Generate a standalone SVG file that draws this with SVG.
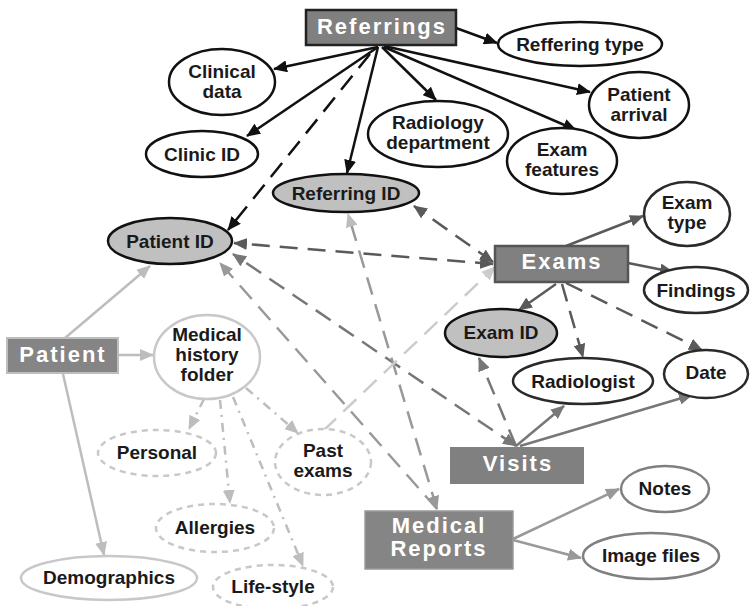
<svg xmlns="http://www.w3.org/2000/svg" width="752" height="606" viewBox="0 0 752 606">
<style>
.lbl{font-family:"Liberation Sans",Arial,sans-serif;font-weight:bold;font-size:19px;fill:#1a1a1a;text-anchor:middle}
.box{font-family:"Liberation Sans",Arial,sans-serif;font-weight:bold;font-size:22px;fill:#ffffff;text-anchor:middle;letter-spacing:2px}
.e-blk{fill:#ffffff;stroke:#111;stroke-width:2.5}
.e-key{fill:#c0c0c0;stroke:#111;stroke-width:2.5}
.e-dk{fill:#ffffff;stroke:#2a2a2a;stroke-width:2.5}
.e-md{fill:#ffffff;stroke:#808080;stroke-width:2.5}
.e-lt{fill:#ffffff;stroke:#c8c8c8;stroke-width:2.5}
.e-dash{fill:#ffffff;stroke:#c8c8c8;stroke-width:2.5;stroke-dasharray:6 5}
.b-main{fill:#808080}
.c{fill:none;stroke-width:2.5}
.k{stroke:#111}
.g5{stroke:#5a5a5a}
.g7{stroke:#777}
.g9{stroke:#999}
.gb{stroke:#bdbdbd}
.gc{stroke:#cccccc}
.d{stroke-dasharray:18 10}
.dd{stroke-dasharray:9 6 2 6}
</style>
<defs>
<marker id="ak" viewBox="0 0 14 12" refX="13" refY="6" markerWidth="14" markerHeight="12" markerUnits="userSpaceOnUse" orient="auto-start-reverse"><path d="M0,0 L14,6 L0,12 z" fill="#111"/></marker>
<marker id="a5" viewBox="0 0 14 12" refX="13" refY="6" markerWidth="14" markerHeight="12" markerUnits="userSpaceOnUse" orient="auto-start-reverse"><path d="M0,0 L14,6 L0,12 z" fill="#5a5a5a"/></marker>
<marker id="a7" viewBox="0 0 14 12" refX="13" refY="6" markerWidth="14" markerHeight="12" markerUnits="userSpaceOnUse" orient="auto-start-reverse"><path d="M0,0 L14,6 L0,12 z" fill="#777"/></marker>
<marker id="a9" viewBox="0 0 14 12" refX="13" refY="6" markerWidth="14" markerHeight="12" markerUnits="userSpaceOnUse" orient="auto-start-reverse"><path d="M0,0 L14,6 L0,12 z" fill="#999"/></marker>
<marker id="ab" viewBox="0 0 14 12" refX="13" refY="6" markerWidth="14" markerHeight="12" markerUnits="userSpaceOnUse" orient="auto-start-reverse"><path d="M0,0 L14,6 L0,12 z" fill="#bdbdbd"/></marker>
<marker id="ac" viewBox="0 0 14 12" refX="13" refY="6" markerWidth="14" markerHeight="12" markerUnits="userSpaceOnUse" orient="auto-start-reverse"><path d="M0,0 L14,6 L0,12 z" fill="#cccccc"/></marker>
</defs>
<rect width="752" height="606" fill="#ffffff"/>

<g id="connectors">
<!-- Referrings -->
<line class="c k" x1="456" y1="28" x2="497" y2="43" marker-end="url(#ak)"/>
<line class="c k" x1="378" y1="47" x2="274" y2="69" marker-end="url(#ak)"/>
<line class="c k" x1="378" y1="47" x2="247" y2="136" marker-end="url(#ak)"/>
<line class="c k" x1="378" y1="47" x2="347" y2="173" marker-end="url(#ak)"/>
<line class="c k" x1="382" y1="47" x2="436" y2="100" marker-end="url(#ak)"/>
<line class="c k" x1="384" y1="46" x2="590" y2="92" marker-end="url(#ak)"/>
<line class="c k" x1="384" y1="47" x2="576" y2="130" marker-end="url(#ak)"/>
<line class="c k d" x1="370" y1="54" x2="228" y2="230" marker-end="url(#ak)"/>
<!-- Exams -->
<line class="c g5" x1="566" y1="246" x2="643" y2="216" marker-end="url(#a5)"/>
<line class="c g5" x1="628" y1="263" x2="673" y2="272" marker-end="url(#a5)"/>
<line class="c g5" x1="556" y1="284" x2="519" y2="310" marker-end="url(#a5)"/>
<line class="c g5 d" x1="562" y1="284" x2="583" y2="357" marker-end="url(#a5)"/>
<line class="c g5 d" x1="566" y1="283" x2="702" y2="350" marker-end="url(#a5)"/>
<line class="c g5 d" x1="493" y1="264" x2="234" y2="243" marker-start="url(#a5)" marker-end="url(#a5)"/>
<line class="c g5 d" x1="493" y1="262" x2="414" y2="206" marker-start="url(#a5)" marker-end="url(#a5)"/>
<!-- Visits -->
<line class="c g7 d" x1="516" y1="446" x2="233" y2="254" marker-start="url(#a7)" marker-end="url(#a7)"/>
<line class="c g7 d" x1="516" y1="446" x2="479" y2="358" marker-end="url(#a7)"/>
<line class="c g7" x1="516" y1="446" x2="564" y2="406" marker-end="url(#a7)"/>
<line class="c g7" x1="520" y1="446" x2="692" y2="395" marker-end="url(#a7)"/>
<!-- Medical Reports -->
<line class="c g9 d" x1="437" y1="509" x2="220" y2="263" marker-end="url(#a9)"/>
<line class="c g9 d" x1="437" y1="509" x2="348" y2="214" marker-start="url(#a9)" marker-end="url(#ab)"/>
<line class="c g9" x1="513" y1="539" x2="619" y2="489" marker-end="url(#a9)"/>
<line class="c g9" x1="513" y1="540" x2="581" y2="558" marker-end="url(#a9)"/>
<!-- Patient -->
<line class="c gb" x1="65" y1="338" x2="150" y2="266" marker-end="url(#ab)"/>
<line class="c gb" x1="118" y1="355" x2="153" y2="355" marker-end="url(#ab)"/>
<line class="c gb" x1="63" y1="374" x2="104" y2="555" marker-end="url(#ab)"/>
<!-- Medical history folder -->
<line class="c gb dd" x1="204" y1="399" x2="189" y2="429" marker-end="url(#ab)"/>
<line class="c gb dd" x1="220" y1="400" x2="230" y2="503" marker-end="url(#ab)"/>
<line class="c gb dd" x1="233" y1="397" x2="303" y2="566" marker-end="url(#ab)"/>
<line class="c gb dd" x1="246" y1="388" x2="298" y2="433" marker-end="url(#ab)"/>
<!-- Past exams to Exams -->
<line class="c gc d" x1="323" y1="431" x2="495" y2="267" marker-end="url(#ac)"/>
</g>

<g id="referrings"><rect x="306" y="10" width="150" height="35" class="b-main" stroke="#222" stroke-width="2.5"/><text class="box" x="382" y="34">Referrings</text></g>
<g id="reffering-type"><ellipse class="e-blk" cx="580" cy="44" rx="82" ry="22"/><text class="lbl" x="580" y="51">Reffering type</text></g>
<g id="clinical-data"><ellipse class="e-blk" cx="222" cy="82" rx="53" ry="33"/><text class="lbl" x="222" y="78">Clinical<tspan x="222" dy="20">data</tspan></text></g>
<g id="clinic-id"><ellipse class="e-blk" cx="202" cy="154" rx="56" ry="23"/><text class="lbl" x="202" y="161">Clinic ID</text></g>
<g id="radiology-department"><ellipse class="e-blk" cx="438" cy="134" rx="70" ry="33"/><text class="lbl" x="438" y="129">Radiology<tspan x="438" dy="20">department</tspan></text></g>
<g id="patient-arrival"><ellipse class="e-blk" cx="639" cy="105" rx="50" ry="33"/><text class="lbl" x="639" y="101">Patient<tspan x="639" dy="20">arrival</tspan></text></g>
<g id="exam-features"><ellipse class="e-blk" cx="562" cy="161" rx="55" ry="33"/><text class="lbl" x="562" y="156">Exam<tspan x="562" dy="20">features</tspan></text></g>
<g id="referring-id"><ellipse class="e-key" cx="346" cy="193" rx="73" ry="19"/><text class="lbl" x="346" y="200" fill="#333">Referring ID</text></g>
<g id="patient-id"><ellipse class="e-key" cx="170" cy="241" rx="62" ry="23"/><text class="lbl" x="170" y="248">Patient ID</text></g>

<g id="exams"><rect x="495" y="246" width="133" height="36" class="b-main" stroke="#555" stroke-width="2.5"/><text class="box" x="562" y="269">Exams</text></g>
<g id="exam-type"><ellipse class="e-dk" cx="687" cy="214" rx="43" ry="32"/><text class="lbl" x="687" y="209">Exam<tspan x="687" dy="20">type</tspan></text></g>
<g id="findings"><ellipse class="e-dk" cx="696" cy="290" rx="52" ry="23"/><text class="lbl" x="696" y="297">Findings</text></g>
<g id="exam-id"><ellipse class="e-key" cx="501" cy="333" rx="56" ry="24"/><text class="lbl" x="501" y="339">Exam ID</text></g>
<g id="radiologist"><ellipse class="e-dk" cx="583" cy="381" rx="70" ry="23"/><text class="lbl" x="583" y="388">Radiologist</text></g>
<g id="date"><ellipse class="e-dk" cx="706" cy="374" rx="42" ry="24"/><text class="lbl" x="706" y="379">Date</text></g>

<g id="visits"><rect x="450" y="447" width="134" height="37" class="b-main"/><text class="box" x="518" y="471">Visits</text></g>
<g id="medical-reports"><rect x="365" y="511" width="148" height="58" fill="#858585" stroke="#9a9a9a" stroke-width="1.5"/><text class="box" x="439" y="533">Medical<tspan x="439" dy="23">Reports</tspan></text></g>
<g id="notes"><ellipse class="e-md" cx="665" cy="489" rx="44" ry="23"/><text class="lbl" x="665" y="495">Notes</text></g>
<g id="image-files"><ellipse class="e-md" cx="651" cy="556" rx="68" ry="23"/><text class="lbl" x="651" y="562">Image files</text></g>

<g id="patient"><rect x="7" y="338" width="111" height="35" fill="#858585" stroke="#bdbdbd" stroke-width="2"/><text class="box" x="63" y="362">Patient</text></g>
<g id="medical-history-folder"><ellipse class="e-lt" cx="207" cy="357" rx="53" ry="42"/><text class="lbl" x="207" y="341">Medical<tspan x="207" dy="20">history</tspan><tspan x="207" dy="20">folder</tspan></text></g>
<g id="personal"><ellipse class="e-dash" cx="157" cy="453" rx="59" ry="23"/><text class="lbl" x="157" y="459">Personal</text></g>
<g id="past-exams"><ellipse class="e-dash" cx="323" cy="462" rx="48" ry="33"/><text class="lbl" x="323" y="457">Past<tspan x="323" dy="20">exams</tspan></text></g>
<g id="allergies"><ellipse class="e-dash" cx="215" cy="528" rx="59" ry="24"/><text class="lbl" x="215" y="534">Allergies</text></g>
<g id="demographics"><ellipse class="e-lt" cx="109" cy="578" rx="88" ry="22"/><text class="lbl" x="109" y="584">Demographics</text></g>
<g id="life-style"><ellipse class="e-dash" cx="273" cy="587" rx="60" ry="22"/><text class="lbl" x="273" y="593">Life-style</text></g>
</svg>
